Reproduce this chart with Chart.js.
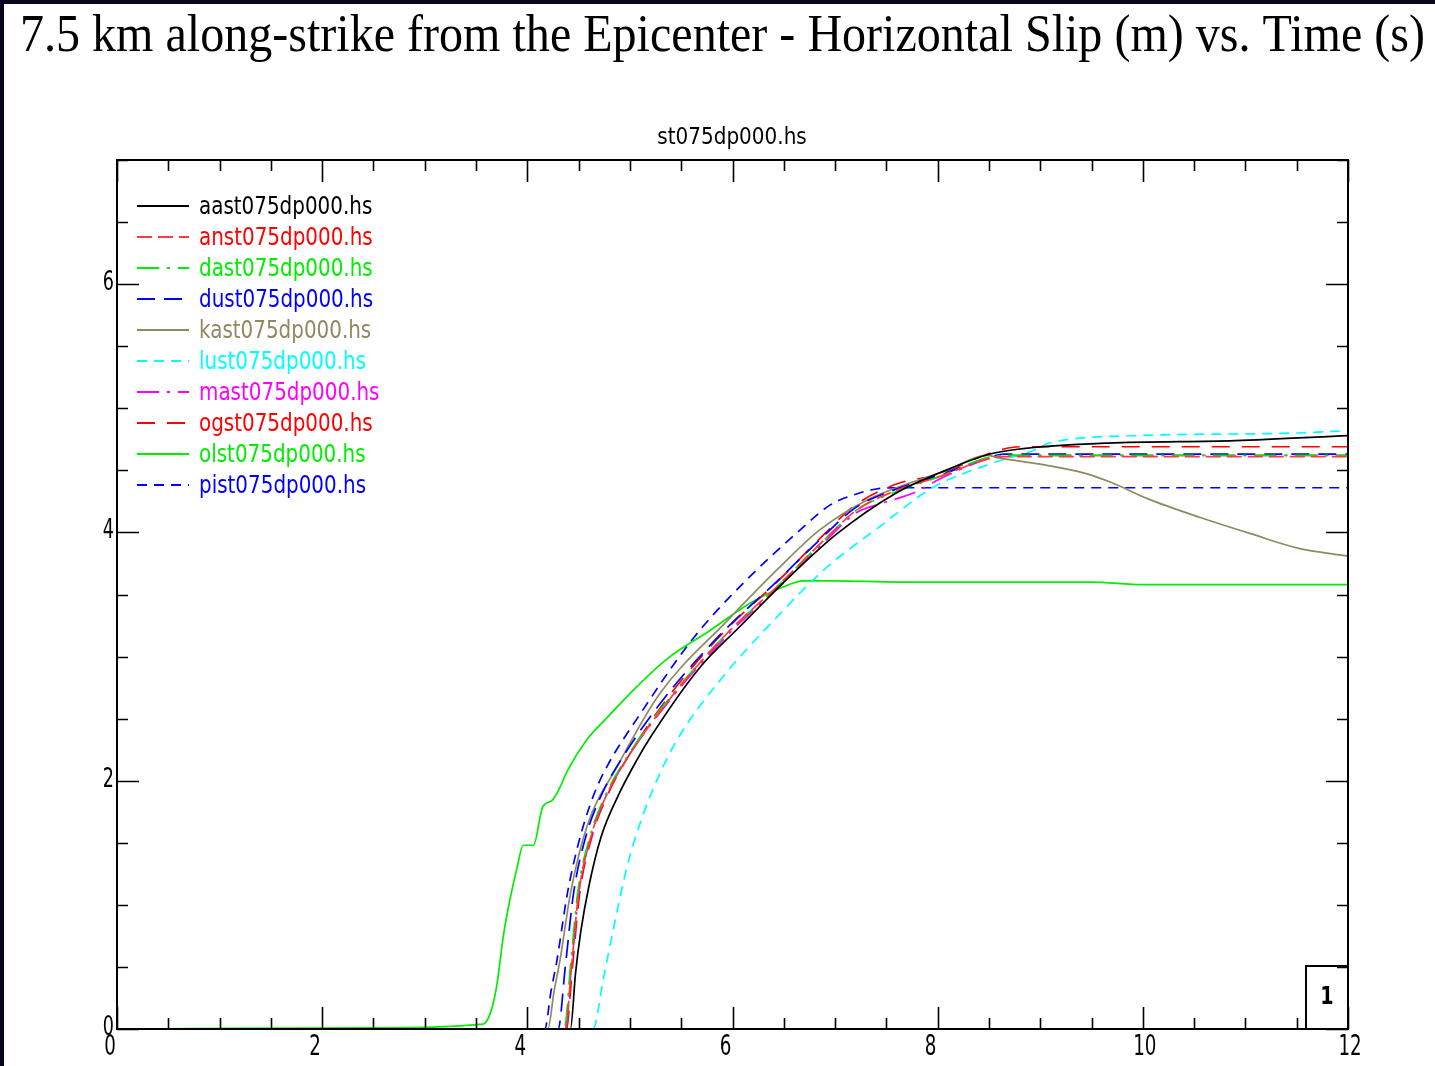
<!DOCTYPE html>
<html>
<head>
<meta charset="utf-8">
<script src="https://cdn.jsdelivr.net/npm/chart.js@4.4.0/dist/chart.umd.min.js"></script>
<style>
  html, body { margin: 0; padding: 0; background: #06061e; }
  #wrap { position: relative; width: 1435px; height: 1066px; }
</style>
</head>
<body>
<div id="wrap"><canvas id="slipChart"></canvas></div>
<script>
// --- titles / axis ticks ---
const TITLE = '7.5 km along-strike from the Epicenter - Horizontal Slip (m) vs. Time (s)';
const SUBTITLE = 'st075dp000.hs';
const X_TICKS = [0, 2, 4, 6, 8, 10, 12];
const Y_TICKS = [0, 2, 4, 6];
const BOX_LABEL = '1';

// --- series: time (s) and slip (m) ---
const aastT = [0, 4.42, 4.47, 4.52, 4.60, 4.72, 4.88, 5.07, 5.20, 5.68, 6.07, 6.59, 7.02, 7.60, 8.02, 8.50, 8.78, 9.66, 10.9, 12];
const aastS = [0, 0, 0.45, 0.78, 1.15, 1.55, 1.87, 2.17, 2.35, 2.91, 3.24, 3.67, 3.99, 4.32, 4.48, 4.63, 4.67, 4.72, 4.74, 4.78];

const anstT = [0, 4.37, 4.43, 4.50, 4.62, 4.77, 4.98, 5.40, 5.95, 6.43, 6.92, 7.21, 7.60, 8.02, 8.48, 8.65, 12];
const anstS = [0, 0, 0.5, 1.09, 1.55, 1.88, 2.19, 2.67, 3.19, 3.56, 3.96, 4.18, 4.34, 4.45, 4.59, 4.61, 4.61];

const dastT = [0, 4.36, 4.42, 4.49, 4.61, 4.76, 4.97, 5.39, 5.95, 6.43, 6.92, 7.21, 7.60, 8.02, 8.48, 8.65, 12];
const dastS = [0, 0, 0.5, 1.09, 1.55, 1.88, 2.19, 2.67, 3.19, 3.56, 3.96, 4.18, 4.33, 4.45, 4.60, 4.62, 4.62];

const dustT = [0, 4.30, 4.37, 4.45, 4.57, 4.72, 4.93, 5.35, 5.92, 6.40, 6.90, 7.20, 7.60, 8.02, 8.48, 8.65, 12];
const dustS = [0, 0, 0.5, 1.09, 1.55, 1.88, 2.19, 2.68, 3.21, 3.58, 3.98, 4.20, 4.35, 4.46, 4.60, 4.63, 4.63];

const kastT = [0, 4.20, 4.26, 4.32, 4.42, 4.58, 4.88, 5.29, 5.95, 6.46, 6.85, 7.31, 8.09, 8.48, 8.60, 9.00, 9.42, 9.70, 10.05, 10.56, 11.05, 11.53, 12];
const kastS = [0, 0, 0.3, 0.56, 1.09, 1.63, 2.12, 2.7, 3.29, 3.72, 4.02, 4.26, 4.5, 4.62, 4.60, 4.55, 4.48, 4.40, 4.27, 4.12, 3.99, 3.87, 3.81];

const lustT = [0, 4.64, 4.74, 4.85, 4.97, 5.10, 5.25, 5.46, 5.88, 6.40, 6.92, 7.44, 7.95, 8.54, 8.93, 9.09, 9.97, 11.46, 12];
const lustS = [0, 0, 0.4, 0.85, 1.30, 1.66, 1.98, 2.33, 2.81, 3.29, 3.72, 4.05, 4.36, 4.56, 4.66, 4.72, 4.78, 4.80, 4.82];

const mastT = [0, 4.37, 4.43, 4.50, 4.62, 4.77, 4.98, 5.40, 5.96, 6.44, 6.93, 7.21, 7.44, 7.80, 8.02, 8.48, 8.65, 12];
const mastS = [0, 0, 0.5, 1.09, 1.55, 1.88, 2.19, 2.66, 3.18, 3.55, 3.95, 4.16, 4.23, 4.33, 4.43, 4.59, 4.62, 4.62];

const ogstT = [0, 4.38, 4.44, 4.51, 4.63, 4.78, 4.98, 5.38, 5.93, 6.42, 6.90, 7.18, 7.60, 8.02, 8.48, 8.80, 12];
const ogstS = [0, 0, 0.5, 1.09, 1.55, 1.88, 2.19, 2.68, 3.21, 3.59, 3.99, 4.21, 4.39, 4.47, 4.63, 4.69, 4.69];

const olstT = [0, 2.50, 3.57, 3.64, 3.70, 3.77, 3.83, 3.90, 3.96, 4.06, 4.15, 4.24, 4.32, 4.39, 4.58, 4.78, 5.07, 5.36, 5.78, 6.17, 6.49, 6.69, 6.98, 7.63, 9.50, 10.0, 11.0, 12];
const olstS = [0, 0.01, 0.04, 0.13, 0.34, 0.77, 1.04, 1.30, 1.48, 1.48, 1.79, 1.84, 1.95, 2.08, 2.33, 2.51, 2.76, 2.98, 3.21, 3.43, 3.56, 3.61, 3.61, 3.60, 3.60, 3.58, 3.58, 3.58];

const pistT = [0, 4.17, 4.23, 4.29, 4.39, 4.50, 4.64, 4.78, 5.07, 5.62, 6.14, 6.66, 6.95, 7.21, 7.40, 7.60, 12];
const pistS = [0, 0, 0.3, 0.56, 1.09, 1.50, 1.87, 2.12, 2.50, 3.15, 3.62, 4.02, 4.22, 4.31, 4.35, 4.36, 4.36];

const SERIES = [
  { name: 'aast075dp000.hs', t: aastT, s: aastS, color: '#000000', dash: [] },
  { name: 'anst075dp000.hs', t: anstT, s: anstS, color: '#ff3a3a', dash: [15, 6] },
  { name: 'dast075dp000.hs', t: dastT, s: dastS, color: '#00ee00', dash: [22, 8, 3, 8] },
  { name: 'dust075dp000.hs', t: dustT, s: dustS, color: '#0000ff', dash: [18, 9] },
  { name: 'kast075dp000.hs', t: kastT, s: kastS, color: '#8e8a62', dash: [] },
  { name: 'lust075dp000.hs', t: lustT, s: lustS, color: '#00ffff', dash: [10, 7] },
  { name: 'mast075dp000.hs', t: mastT, s: mastS, color: '#ff00ff', dash: [22, 8, 3, 8] },
  { name: 'ogst075dp000.hs', t: ogstT, s: ogstS, color: '#ff0000', dash: [18, 12] },
  { name: 'olst075dp000.hs', t: olstT, s: olstS, color: '#00ee00', dash: [] },
  { name: 'pist075dp000.hs', t: pistT, s: pistS, color: '#0000ff', dash: [10, 7] }
];

// text helper: condensed look by squeezing horizontally
function squeeze(ctx, text, x, y, font, sx, align, color, baseline) {
  ctx.save();
  ctx.font = font;
  ctx.fillStyle = color;
  ctx.textBaseline = baseline || 'middle';
  ctx.textAlign = 'left';
  const w = ctx.measureText(text).width * sx;
  let left = x;
  if (align === 'center') left = x - w / 2;
  else if (align === 'right') left = x - w;
  ctx.translate(left, y);
  ctx.scale(sx, 1);
  ctx.fillText(text, 0, 0);
  ctx.restore();
}

const LABEL_FONT = '"DejaVu Sans", sans-serif';

const framePlugin = {
  id: 'frame',
  beforeDraw(chart) {
    const ctx = chart.ctx;
    ctx.save();
    ctx.fillStyle = '#06061e';
    ctx.fillRect(0, 0, chart.width, chart.height);
    ctx.fillStyle = '#ffffff';
    ctx.fillRect(4, 4, chart.width - 4, chart.height - 4);
    ctx.restore();

    // main title, fitted to the width it takes in the original
    ctx.save();
    ctx.font = '52px "Liberation Serif", serif';
    const tw = ctx.measureText(TITLE).width;
    ctx.restore();
    squeeze(ctx, TITLE, 20, 51, '52px "Liberation Serif", serif', 1405 / tw, 'left', '#000', 'alphabetic');
    squeeze(ctx, SUBTITLE, 732, 138, '23px ' + LABEL_FONT, 0.87, 'center', '#000');
  },
  afterDatasetsDraw(chart) {
    const ctx = chart.ctx;
    const a = chart.chartArea;
    const xs = chart.scales.x, ys = chart.scales.y;

    ctx.save();
    ctx.strokeStyle = '#000';
    ctx.lineWidth = 2;
    ctx.strokeRect(a.left, a.top, a.right - a.left, a.bottom - a.top);

    // inward ticks on all four sides: major every 2, minor every 0.5
    ctx.lineWidth = 1.6;
    ctx.beginPath();
    for (let v = 0; v <= 12.001; v += 0.5) {
      const px = Math.round(xs.getPixelForValue(v)) + 0.5;
      const len = (Math.abs(v % 2) < 1e-6) ? 22 : 11;
      ctx.moveTo(px, a.bottom); ctx.lineTo(px, a.bottom - len);
      ctx.moveTo(px, a.top); ctx.lineTo(px, a.top + len);
    }
    for (let v = 0; v <= 7.001; v += 0.5) {
      const py = Math.round(ys.getPixelForValue(v)) + 0.5;
      const len = (Math.abs(v % 2) < 1e-6) ? 22 : 11;
      ctx.moveTo(a.left, py); ctx.lineTo(a.left + len, py);
      ctx.moveTo(a.right, py); ctx.lineTo(a.right - len, py);
    }
    ctx.stroke();
    ctx.restore();

    // tick labels
    X_TICKS.forEach(v => {
      const px = xs.getPixelForValue(v);
      const label = String(v);
      const off = label.length > 1 ? 2 : -7;
      squeeze(ctx, label, px + off, a.bottom + 18, '29px ' + LABEL_FONT, 0.63, 'center', '#000');
    });
    Y_TICKS.forEach(v => {
      const py = ys.getPixelForValue(v);
      squeeze(ctx, String(v), a.left - 3, py - 1, '27px ' + LABEL_FONT, 0.65, 'right', '#000');
    });

    // legend inside the plot
    const lx0 = 137, lx1 = 189, tx = 199, ly0 = 206, step = 31;
    SERIES.forEach((s, i) => {
      const y = ly0 + i * step;
      ctx.save();
      ctx.strokeStyle = s.color;
      ctx.lineWidth = 2;
      ctx.setLineDash(s.dash);
      ctx.beginPath();
      ctx.moveTo(lx0, y); ctx.lineTo(lx1, y);
      ctx.stroke();
      ctx.restore();
      const textColor = (s.name.startsWith('anst')) ? '#ff0000' : s.color;
      squeeze(ctx, s.name, tx, y + 2, '24px ' + LABEL_FONT, 0.83, 'left', textColor);
    });

    // small box in the lower right corner
    ctx.save();
    ctx.strokeStyle = '#000';
    ctx.lineWidth = 2;
    ctx.strokeRect(a.right - 42, a.bottom - 63, 42, 63);
    ctx.restore();
    squeeze(ctx, BOX_LABEL, a.right - 21, a.bottom - 31, 'bold 24px ' + LABEL_FONT, 0.8, 'center', '#000');
  }
};

const datasets = SERIES.map(s => ({
  label: s.name,
  data: s.t.map((t, i) => ({ x: t, y: s.s[i] })),
  borderColor: s.color,
  backgroundColor: s.color,
  borderWidth: 1.7,
  borderDash: s.dash,
  pointRadius: 0,
  fill: false,
  cubicInterpolationMode: 'monotone'
}));

new Chart(document.getElementById('slipChart'), {
  type: 'line',
  data: { datasets: datasets },
  options: {
    responsive: true,
    maintainAspectRatio: false,
    animation: false,
    layout: { padding: { left: 117, right: 87, top: 160, bottom: 37 } },
    plugins: { legend: { display: false }, title: { display: false }, tooltip: { enabled: false } },
    scales: {
      x: { type: 'linear', min: 0, max: 12, display: false },
      y: { type: 'linear', min: 0, max: 7, display: false }
    }
  },
  plugins: [framePlugin]
});
</script>
</body>
</html>
